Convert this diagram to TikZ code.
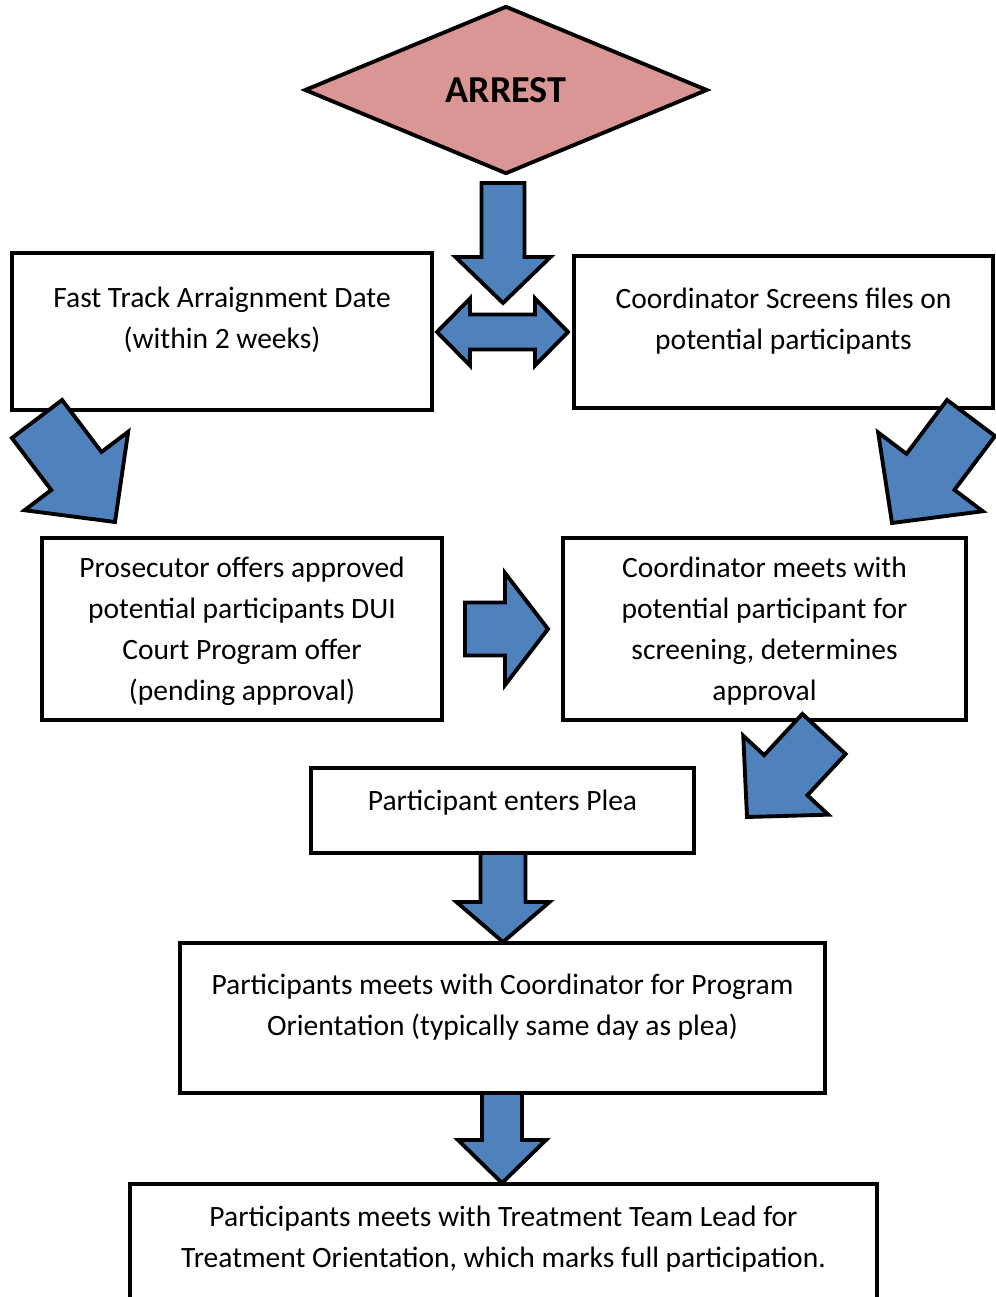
\documentclass[tikz,border=0pt]{standalone}
\usepackage{fontspec}
\setmainfont{Carlito}
\usetikzlibrary{shapes.geometric, calc}
\definecolor{arrowblue}{HTML}{4F81BD}
\definecolor{arrestred}{HTML}{D99694}
\tikzset{
  box/.style = {draw=black, line width=2.2pt, align=center, inner sep=0pt,
    fill=white, font=\fontsize{16.8}{23.3}\selectfont},
  barrow/.style = {draw=black, line width=2.2pt, fill=arrowblue,
    line join=miter},
  lift/.style = {text depth=#1}
}
% block arrow: tail, tip, half shaft, half head, head length
\newcommand{\blockarrow}[5]{%
  \coordinate (ba-c) at ($(#2)!#5!(#1)$);
  \draw[barrow] ($(#1)!#3!90:(#2)$) -- ($(ba-c)!#3!90:(#2)$)
    -- ($(ba-c)!#4!90:(#2)$) -- (#2) -- ($(ba-c)!#4!-90:(#2)$)
    -- ($(ba-c)!#3!-90:(#2)$) -- ($(#1)!#3!-90:(#2)$) -- cycle;
}
% double block arrow: left tip, right tip, half shaft, half head, head length
\newcommand{\dblarrow}[5]{%
  \coordinate (da-l) at ($(#1)!#5!(#2)$);
  \coordinate (da-r) at ($(#2)!#5!(#1)$);
  \draw[barrow] (#1) -- ($(da-l)!#4!90:(#2)$) -- ($(da-l)!#3!90:(#2)$)
    -- ($(da-r)!#3!-90:(#1)$) -- ($(da-r)!#4!-90:(#1)$) -- (#2)
    -- ($(da-r)!#4!90:(#1)$) -- ($(da-r)!#3!90:(#1)$)
    -- ($(da-l)!#3!-90:(#2)$) -- ($(da-l)!#4!-90:(#2)$) -- cycle;
}

\begin{document}
\begin{tikzpicture}[x=0.02cm, y=-0.02cm]
\useasboundingbox (0,0) rectangle (995,1297);

\node [diamond, draw=black, line width=2.2pt, fill=arrestred, inner sep=0pt,
  minimum width=8.06cm, minimum height=3.36cm,
  font=\fontsize{21.7}{26}\selectfont\bfseries] (arrest) at (506,90) {ARREST};

\node [box, minimum width=8.4cm, minimum height=3.14cm, lift=0.54cm] (fast) at (222,331.5)
  {Fast Track Arraignment Date\\(within 2 weeks)};
\node [box, minimum width=8.38cm, minimum height=3.04cm, lift=0.54cm] (screens) at (783.5,332)
  {Coordinator Screens files on\\potential participants};
\node [box, minimum width=8cm, minimum height=3.64cm, lift=0pt] (prosec) at (242,629)
  {Prosecutor offers approved\\potential participants DUI\\Court Program offer\\(pending approval)};
\node [box, minimum width=8.06cm, minimum height=3.64cm, lift=0pt] (meets) at (764.5,629)
  {Coordinator meets with\\potential participant for\\screening, determines\\approval};
\node [box, minimum width=7.66cm, minimum height=1.7cm, lift=0.42cm] (plea) at (502.5,810.5)
  {Participant enters Plea};
\node [box, minimum width=12.9cm, minimum height=3cm, lift=0.54cm] (orient) at (502.5,1018)
  {Participants meets with Coordinator for Program\\Orientation (typically same day as plea)};
\node [box, minimum width=14.94cm, minimum height=2.8cm, lift=0.7cm] (treat) at (503.5,1254)
  {Participants meets with Treatment Team Lead for\\Treatment Orientation, which marks full participation.};

% arrow ends
\coordinate (a1t) at (503,183);  \coordinate (a1h) at (503,303);
\coordinate (a2l) at (437,332);  \coordinate (a2r) at (568,332);
\coordinate (a3t) at (37,419);   \coordinate (a3h) at (115,522);
\coordinate (a4t) at (971,418);  \coordinate (a4h) at (892,523);
\coordinate (a5t) at (465,629);  \coordinate (a5h) at (548,629);
\coordinate (a6t) at (824,734);  \coordinate (a6h) at (747,817);
\coordinate (a7t) at (503,853);  \coordinate (a7h) at (503,942);
\coordinate (a8t) at (502,1093); \coordinate (a8h) at (502,1183);

\blockarrow{a1t}{a1h}{0.43cm}{0.95cm}{0.92cm}
\dblarrow{a2l}{a2r}{0.35cm}{0.67cm}{0.66cm}
\blockarrow{a3t}{a3h}{0.63cm}{1.3cm}{1.28cm}
\blockarrow{a4t}{a4h}{0.6cm}{1.31cm}{1.28cm}
\blockarrow{a5t}{a5h}{0.53cm}{1.12cm}{0.86cm}
\blockarrow{a6t}{a6h}{0.59cm}{1.16cm}{1.14cm}
\blockarrow{a7t}{a7h}{0.45cm}{0.93cm}{0.8cm}
\blockarrow{a8t}{a8h}{0.4cm}{0.88cm}{0.86cm}
\end{tikzpicture}
\end{document}
